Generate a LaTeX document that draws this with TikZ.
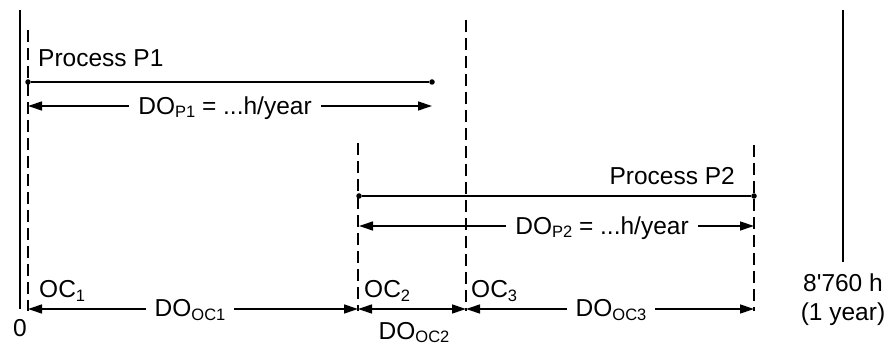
\documentclass[tikz,border=0pt]{standalone}
\usepackage{fontspec}
\setmainfont{Liberation Sans}[Ligatures=TeXOff]
\usetikzlibrary{arrows.meta}
\newcommand{\lowsub}[2][4pt]{\raisebox{-#1}{\fontsize{16.5}{16.5}\selectfont #2}}
\tikzset{
  guide/.style={line width=1.3pt},
  dashguide/.style={line width=2.4pt, dash pattern=on 12.5pt off 5.5pt},
  proc/.style={line width=1.3pt},
  dur/.style={line width=1.3pt, {Triangle[length=14pt,width=9pt]}-{Triangle[length=14pt,width=9pt]}},
  dot/.style={circle, fill=black, inner sep=0pt, minimum size=5.5pt},
  lbl/.style={inner sep=0pt, font=\fontsize{24.5}{27}\selectfont},
  gaplbl/.style={lbl, fill=white, inner xsep=9pt, inner ysep=2pt},
}
\begin{document}
\begin{tikzpicture}[x=1pt,y=-1pt]
\useasboundingbox (0,0) rectangle (889,347);
% guide coordinates
\coordinate (s0t) at (20,10);   \coordinate (s0b) at (20,309);
\coordinate (d0t) at (28,30);   \coordinate (d0b) at (28,311);
\coordinate (d1t) at (358,143); \coordinate (d1b) at (358,311);
\coordinate (d2t) at (466,20);  \coordinate (d2b) at (466,311);
\coordinate (d3t) at (754,145); \coordinate (d3b) at (754,311);
\coordinate (eyt) at (843,10);  \coordinate (eyb) at (843,262);
\draw[guide] (s0t) -- (s0b);
\draw[guide] (eyt) -- (eyb);
\draw[dashguide] (d0t) -- (d0b);
\draw[dashguide] (d1t) -- (d1b);
\draw[dashguide] (d2t) -- (d2b);
\draw[dashguide] (d3t) -- (d3b);
% process P1
\node[dot] (p1a) at (28,82) {};
\node[dot] (p1b) at (432,82) {};
\draw[proc] (p1a) -- (p1b);
\node[lbl, anchor=base west] (p1t) at (38,67) {Process P1};
\coordinate (a1l) at (28,106); \coordinate (a1r) at (432,106);
\draw[dur] (a1l) -- (a1r);
\node[gaplbl, anchor=base] (a1t) at (225,115) {DO\lowsub[2.5pt]{P1} = ...h/year};
% process P2
\node[dot] (p2a) at (359,196) {};
\node[dot] (p2b) at (754,196) {};
\draw[proc] (p2a) -- (p2b);
\node[lbl, anchor=base east] (p2t) at (735,185) {Process P2};
\coordinate (a2l) at (359,226); \coordinate (a2r) at (754,226);
\draw[dur] (a2l) -- (a2r);
\node[gaplbl, anchor=base] (a2t) at (602,235) {DO\lowsub[2.5pt]{P2} = ...h/year};
% operating cycles
\coordinate (o0) at (28,309); \coordinate (o1) at (358,309);
\coordinate (o2) at (466,309); \coordinate (o3) at (754,309);
\draw[dur] (o0) -- (o1);
\draw[dur] (o1) -- (o2);
\draw[dur] (o2) -- (o3);
\node[gaplbl, anchor=base] (oc1d) at (190,317) {DO\lowsub{OC1}};
\node[lbl, anchor=base] (oc2d) at (414,340) {DO\lowsub[3pt]{OC2}};
\node[gaplbl, anchor=base] (oc3d) at (611,317) {DO\lowsub{OC3}};
\node[lbl, anchor=base west] (oc1) at (39,298) {OC\lowsub{1}};
\node[lbl, anchor=base west] (oc2) at (364,298) {OC\lowsub{2}};
\node[lbl, anchor=base west] (oc3) at (471,298) {OC\lowsub{3}};
\node[lbl, anchor=base] (zero) at (20,337) {0};
\node[lbl, anchor=base] (hrs) at (843,292) {8'760 h};
\node[lbl, anchor=base] (yr) at (843,321) {(1 year)};
\end{tikzpicture}
\end{document}
